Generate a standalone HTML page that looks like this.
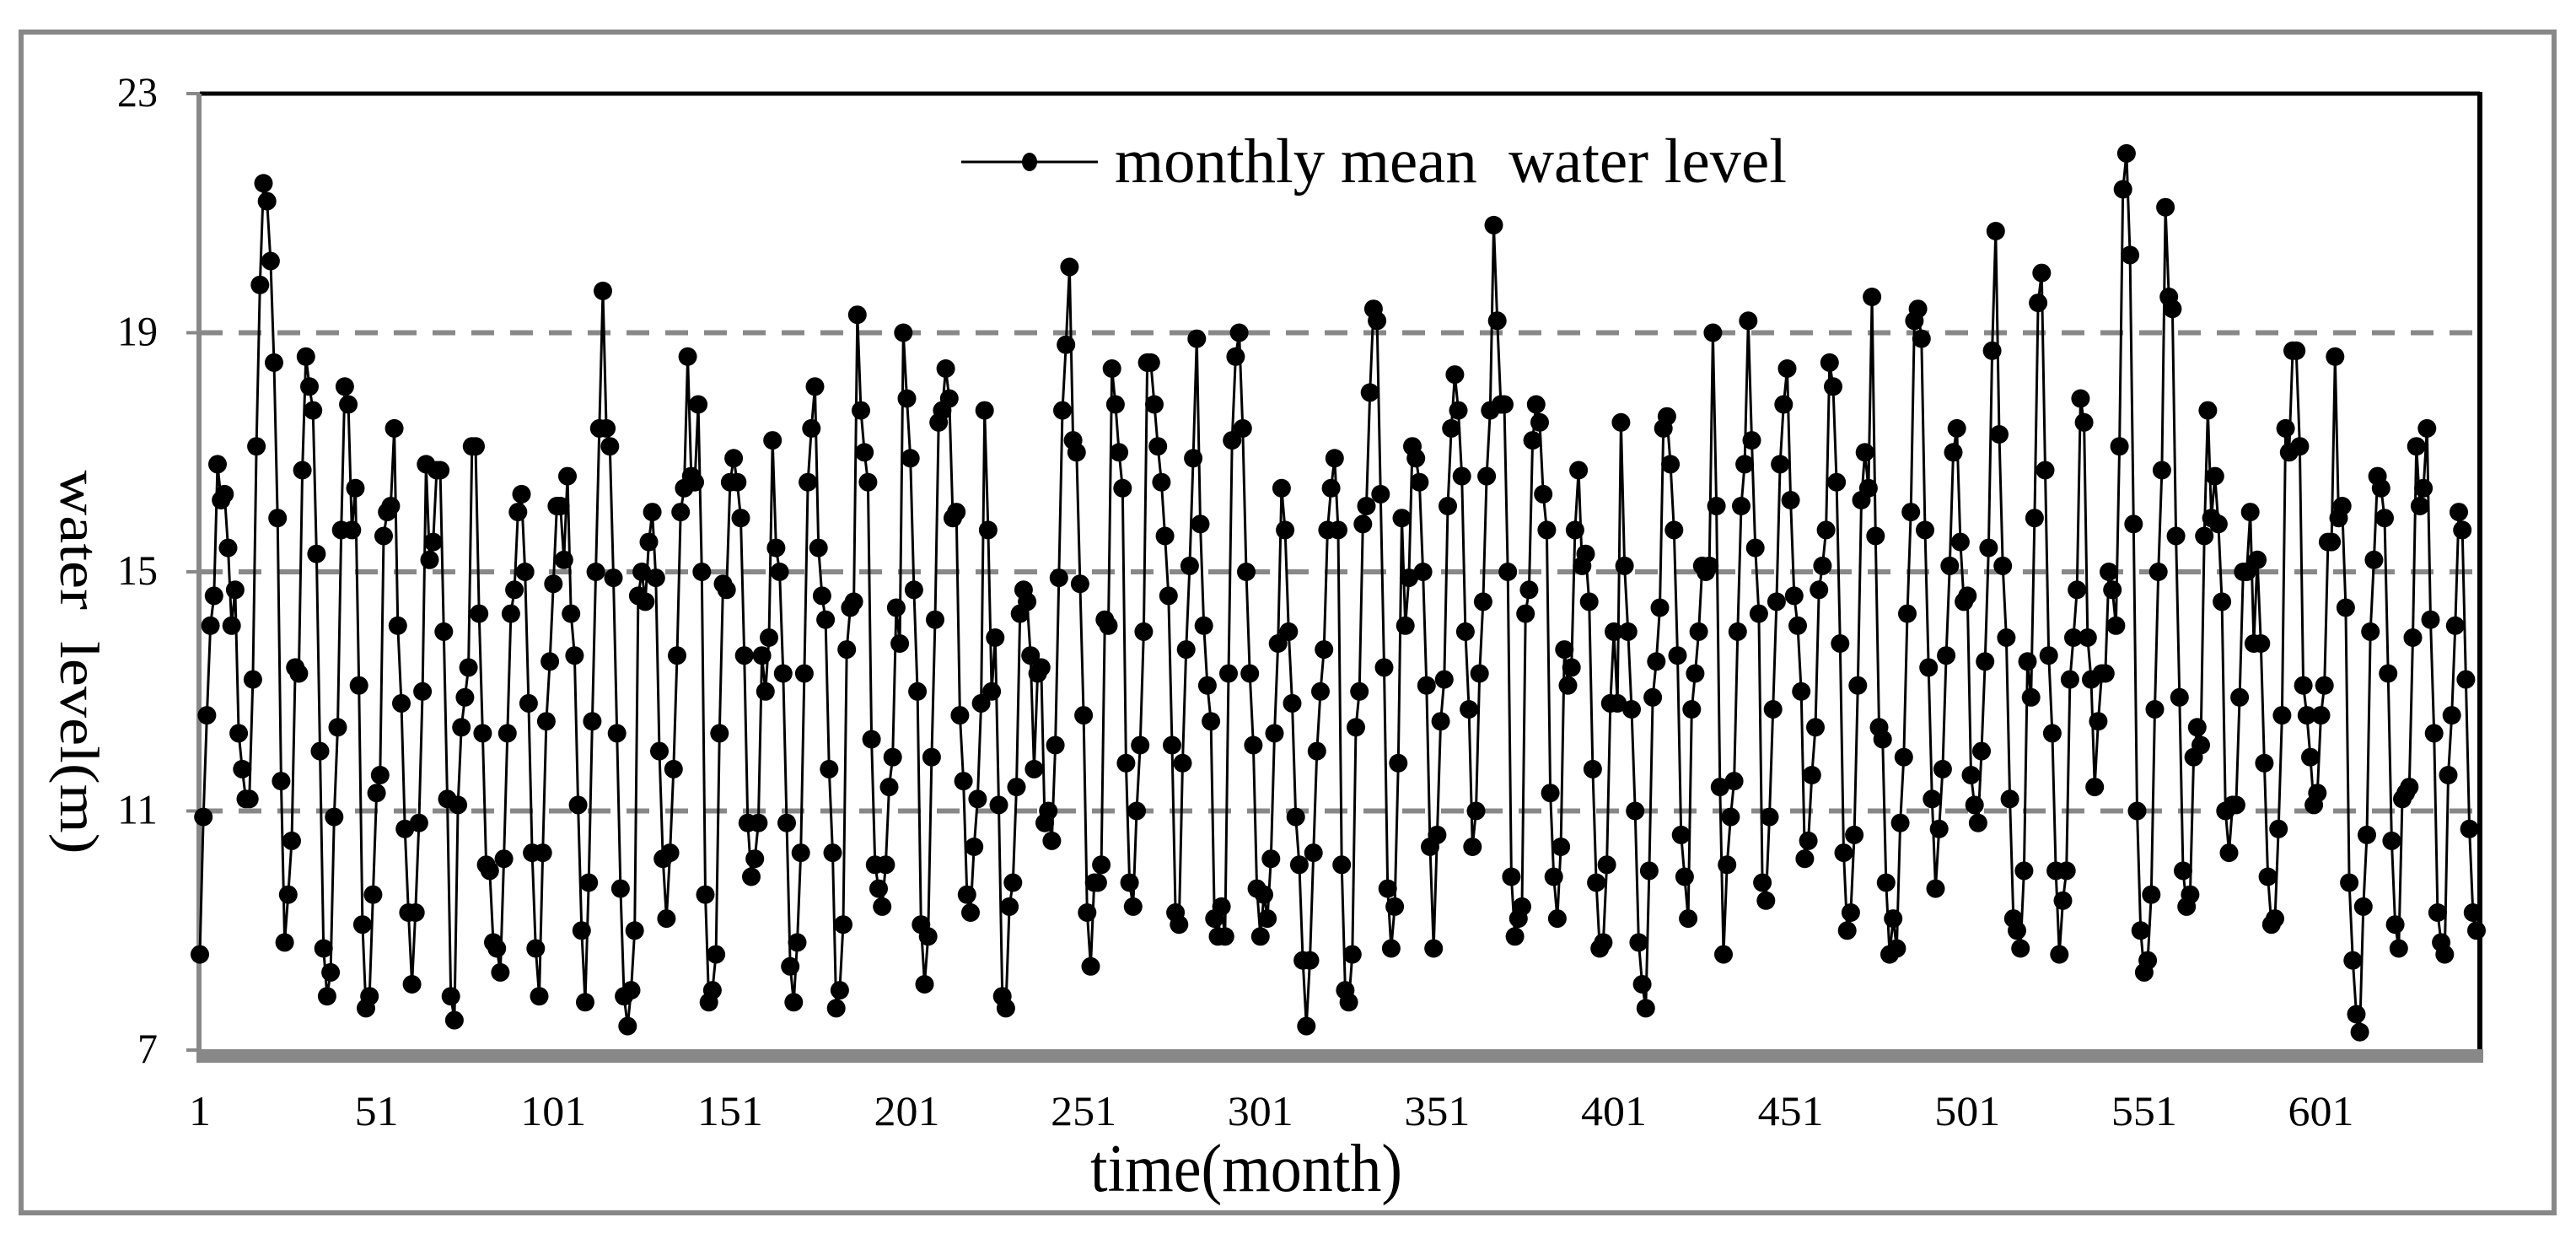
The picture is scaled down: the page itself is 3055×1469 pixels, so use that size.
<!DOCTYPE html>
<html><head><meta charset="utf-8"><style>
html,body{margin:0;padding:0;background:#fff;}
svg{display:block;}
text{font-family:"Liberation Serif",serif;fill:#000;}
</style></head><body>
<svg id="chart" width="3055" height="1469" viewBox="0 0 3055 1469" xmlns="http://www.w3.org/2000/svg">
<rect x="25" y="38" width="3004" height="1400" fill="#fff" stroke="#888" stroke-width="6"/>
<g id="grid"></g>
<g id="axes"></g>
<g id="series"></g>
<g id="legend">
<line x1="1140" y1="192" x2="1302" y2="192" stroke="#000" stroke-width="3"/>
<ellipse cx="1221" cy="192" rx="9" ry="11" fill="#000"/>
<text x="1322" y="216" font-size="75" textLength="797" lengthAdjust="spacingAndGlyphs">monthly mean&#160; water level</text>
</g>
<text transform="translate(72,785) rotate(90)" text-anchor="middle" font-size="66" textLength="455" lengthAdjust="spacingAndGlyphs">water&#160; level(m)</text>
<text x="1478" y="1412" text-anchor="middle" font-size="80" textLength="370" lengthAdjust="spacingAndGlyphs">time(month)</text>
</svg>
<script>
const yTicks = [7, 11, 15, 19, 23];
const gridValues = [11, 15, 19];
const xTickLabels = [1, 51, 101, 151, 201, 251, 301, 351, 401, 451, 501, 551, 601];
const seg1 = [8.6,10.9,12.6,14.1,14.6,16.8,16.2,16.3,15.4,14.1,14.7,12.3,11.7,11.2,11.2,13.2,17.1,19.8,21.5,21.2,20.2,18.5,15.9,11.5,8.8,9.6,10.5,13.4,13.3,16.7,18.6,18.1,17.7,15.3,12.0,8.7,7.9,8.3,10.9,12.4,15.7,18.1,17.8,15.7,16.4,13.1,9.1,7.7,7.9,9.6,11.3,11.6,15.6,16.0,16.1,17.4,14.1,12.8,10.7,9.3,8.1,9.3,10.8,13.0,16.8,15.2,15.5,16.7,16.7,14.0,11.2,7.9,7.5,11.1,12.4,12.9,13.4,17.1,17.1,14.3,12.3,10.1,10.0,8.8,8.7,8.3,10.2,12.3,14.3,14.7,16.0,16.3,15.0,12.8,10.3,8.7,7.9,10.3,12.5,13.5,14.8,16.1,16.1,15.2,16.6,14.3,13.6,11.1];
const seg2 = [9.0,7.8,9.8,12.5,15.0,17.4,19.7,17.4,17.1,14.9,12.3,9.7,7.9,7.4,8.0,9.0,14.6,15.0,14.5,15.5,16.0,14.9,12.0,10.2,9.2,10.3,11.7,13.6,16.0,16.4,18.6,16.6,16.5,17.8,15.0,9.6,7.8,8.0,8.6,12.3,14.8,14.7,16.5,16.9,16.5,15.9,13.6,10.8,9.9,10.2,10.8,13.6,13.0,13.9,17.2,15.4,15.0,13.3,10.8,8.4,7.8,8.8,10.3,13.3,16.5,17.4,18.1,15.4,14.6,14.2,11.7,10.3,7.7,8.0,9.1,13.7,14.4,14.5,19.3,17.7,17.0,16.5,12.2,10.1,9.7,9.4,10.1,11.4,11.9,14.4,13.8,19.0,17.9,16.9,14.7,13.0,9.1,8.1,8.9,11.9,14.2,17.5,17.7,18.4,17.9,15.9,16.0,12.6,11.5,9.6,9.3];
const seg3 = [10.4,11.2,12.8,17.7,15.7,13.0,13.9,11.1,7.9,7.7,9.4,9.8,11.4,14.3,14.7,14.5,13.6,11.7,13.3,13.4,10.8,11.0,10.5,12.1,14.9,17.7,18.8,20.1,17.2,17.0,14.8,12.6,9.3,8.4,9.8,9.8,10.1,14.2,14.1,18.4,17.8,17.0,16.4,11.8,9.8,9.4,11.0,12.1,14.0,18.5,18.5,17.8,17.1,16.5,15.6,14.6,12.1,9.3,9.1,11.8,13.7,15.1,16.9,18.9,15.8,14.1,13.1,12.5,9.2,8.9,9.4,8.9,13.3,17.2,18.6,19.0,17.4,15.0,13.3,12.1,9.7,8.9,9.6,9.2,10.2,12.3,13.8,16.4,15.7,14.0,12.8,10.9,10.1,8.5,7.4,8.5,10.3,12.0,13.0,13.7,15.7,16.4,16.9,15.7,10.1,8.0,7.8,8.6,12.4,13.0];
const seg4 = [15.8,16.1,18.0,19.4,19.2,16.3,13.4,9.7,8.7,9.4,11.8,15.9,14.1,14.9,17.1,16.9,16.5,15.0,13.1,10.4,8.7,10.6,12.5,13.2,16.1,17.4,18.3,17.7,16.6,14.0,12.7,10.4,11.0,13.3,14.5,16.6,17.7,20.8,19.2,17.8,17.8,15.0,9.9,8.9,9.2,9.4,14.3,14.7,17.2,17.8,17.5,16.3,15.7,11.3,9.9,9.2,10.4,13.7,13.1,13.4,15.7,16.7,15.1,15.3,14.5,11.7,9.8,8.7,8.8,10.1,12.8,14.0,12.8,17.5,15.1,14.0,12.7,11.0,8.8,8.1,7.7,10.0,12.9,13.5,14.4,17.4,17.6,16.8,15.7,13.6,10.6,9.9,9.2,12.7,13.3,14.0,15.1,15.0,15.1,19.0,16.1,11.4,8.6,10.1,10.9,11.5,14.0,16.1,16.8];
const seg5 = [19.2,17.2,15.4,14.3,9.8,9.5,10.9,12.7,14.5,16.8,17.8,18.4,16.2,14.6,14.1,13.0,10.2,10.5,11.6,12.4,14.7,15.1,15.7,18.5,18.1,16.5,13.8,10.3,9.0,9.3,10.6,13.1,16.2,17.0,16.4,19.6,15.6,12.4,12.2,9.8,8.6,9.2,8.7,10.8,11.9,14.3,16.0,19.2,19.4,18.9,15.7,13.4,11.2,9.7,10.7,11.7,13.6,15.1,17.0,17.4,15.5,14.5,14.6,11.6,11.1,10.8,12.0,13.5,15.4,18.7,20.7,17.3,15.1,13.9,11.2,9.2,9.0,8.7,10.0,13.5,12.9,15.9,19.5,20.0,16.7,13.6,12.3,10.0,8.6,9.5,10.0,13.2,13.9,14.7,17.9,17.5,13.9,13.2,11.4,12.5,13.3,13.3,15.0,14.7,14.1,17.1,21.4,22.0,20.3];
const seg6 = [15.8,11.0,9.0,8.3,8.5,9.6,12.7,15.0,16.7,21.1,19.6,19.4,15.6,12.9,10.0,9.4,9.6,11.9,12.4,12.1,15.6,17.7,15.9,16.6,15.8,14.5,11.0,10.3,11.1,11.1,12.9,15.0,15.0,16.0,13.8,15.2,13.8,11.8,9.9,9.1,9.2,10.7,12.6,17.4,17.0,18.7,18.7,17.1,13.1,12.6,11.9,11.1,11.3,12.6,13.1,15.5,15.5,18.6,15.9,16.1,14.4,9.8,8.5,7.6,7.3,9.4,10.6,14.0,15.2,16.6,16.4,15.9,13.3,10.5,9.1,8.7,11.2,11.3,11.4,13.9,17.1,16.1,16.4,17.4,14.2,12.3,9.3,8.8,8.6,11.6,12.6,14.1,16.0,15.7,13.2,10.7,9.3,9.0];
const waterLevel = seg1.concat(seg2, seg3, seg4, seg5, seg6);

const NS = "http://www.w3.org/2000/svg";
const plot = {left: 237, right: 2937, top: 111, bottom: 1245};
const yMin = 7, yMax = 23;
function yScale(v) { return plot.bottom - (v - yMin) / (yMax - yMin) * (plot.bottom - plot.top); }
function xScale(month) { return plot.left + (month - 1) / (waterLevel.length - 1) * (plot.right - plot.left); }
function mk(tag, attrs, parent) {
  const el = document.createElementNS(NS, tag);
  for (const k in attrs) el.setAttribute(k, attrs[k]);
  parent.appendChild(el);
  return el;
}
const grid = document.getElementById('grid');
const axes = document.getElementById('axes');
const series = document.getElementById('series');

gridValues.forEach(v => {
  const l = mk('line', {x1: plot.left, x2: plot.right, y1: yScale(v), y2: yScale(v), stroke: '#888', 'stroke-width': 6, 'stroke-dasharray': '27 19'}, grid);
  
  
});

const tb = mk('line', {x1: plot.left, x2: plot.right + 4, y1: plot.top, y2: plot.top, stroke: '#000', 'stroke-width': 5}, axes);


const rb = mk('line', {x1: plot.right + 4, x2: plot.right + 4, y1: plot.top - 2, y2: plot.bottom, stroke: '#000', 'stroke-width': 6}, axes);


const ya = mk('line', {x1: plot.left - 1, x2: plot.left - 1, y1: plot.top, y2: plot.bottom + 15, stroke: '#888', 'stroke-width': 6}, axes);


const xa = mk('rect', {x: plot.left - 4, y: plot.bottom - 1, width: plot.right - plot.left + 12, height: 16, fill: '#888'}, axes);



yTicks.forEach(v => {
  const t = mk('line', {x1: 221, x2: plot.left, y1: yScale(v), y2: yScale(v), stroke: '#888', 'stroke-width': 4}, axes);
  
  
  const s = String(v);
  const tx = mk('text', {x: 187, y: yScale(v) + 15, 'text-anchor': 'end', 'font-size': 50, textLength: 24 * s.length, lengthAdjust: 'spacingAndGlyphs'}, axes);
  tx.textContent = s;
  
  
});

xTickLabels.forEach(m => {
  const s = String(m);
  const tx = mk('text', {x: xScale(m), y: 1334, 'text-anchor': 'middle', 'font-size': 50, textLength: 26 * s.length, lengthAdjust: 'spacingAndGlyphs'}, axes);
  tx.textContent = s;
  
  
});

let d = '';
waterLevel.forEach((v, i) => { d += (i ? 'L' : 'M') + xScale(i + 1).toFixed(1) + ',' + yScale(v).toFixed(1); });
const path = mk('path', {d: d, fill: 'none', stroke: '#000', 'stroke-width': 3, 'stroke-linejoin': 'round'}, series);


waterLevel.forEach((v, i) => {
  const c = mk('ellipse', {cx: xScale(i + 1).toFixed(1), cy: yScale(v).toFixed(1), rx: 11, ry: 11, fill: '#000'}, series);
  
  
});
</script>
</body></html>
